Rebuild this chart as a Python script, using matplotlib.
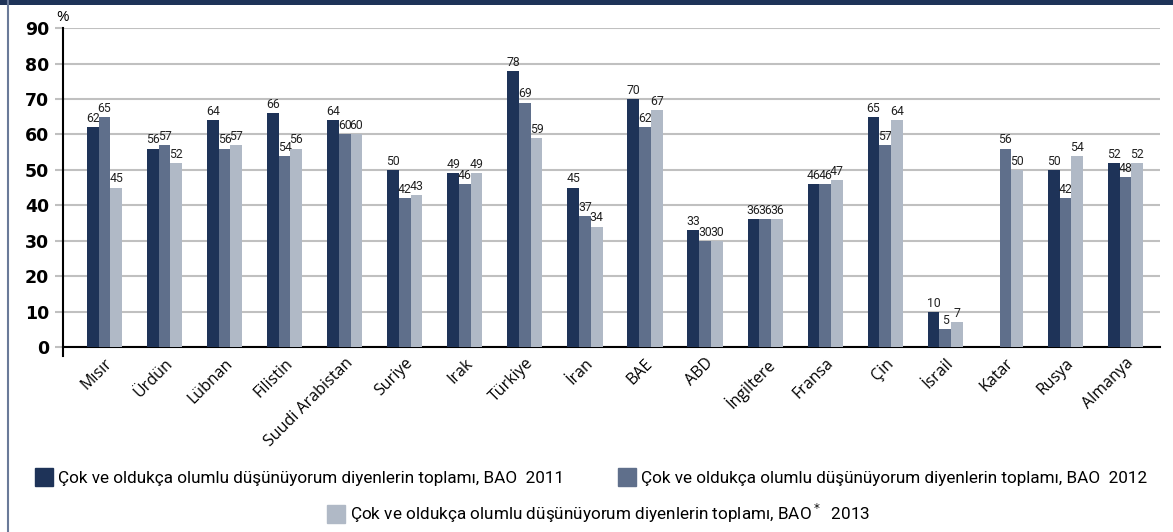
import numpy as np
import matplotlib.pyplot as plt
from matplotlib.lines import Line2D

# data
countries = ['Mısır', 'Ürdün', 'Lübnan', 'Filistin', 'Suudi Arabistan', 'Suriye',
             'Irak', 'Türkiye', 'İran', 'BAE', 'ABD', 'İngiltere', 'Fransa', 'Çin',
             'İsrail', 'Katar', 'Rusya', 'Almanya']
bao_2011 = [62, 56, 64, 66, 64, 50, 49, 78, 45, 70, 33, 36, 46, 65, 10, np.nan, 50, 52]
bao_2012 = [65, 57, 56, 54, 60, 42, 46, 69, 37, 62, 30, 36, 46, 57, 5, 56, 42, 48]
bao_2013 = [45, 52, 57, 56, 60, 43, 49, 59, 34, 67, 30, 36, 47, 64, 7, 50, 54, 52]
yticks = [0, 10, 20, 30, 40, 50, 60, 70, 80, 90]

labels = ['Çok ve oldukça olumlu düşünüyorum diyenlerin toplamı, BAO  2011',
          'Çok ve oldukça olumlu düşünüyorum diyenlerin toplamı, BAO  2012',
          'Çok ve oldukça olumlu düşünüyorum diyenlerin toplamı, BAO$^*$  2013']
colors = ['#1e3358', '#5f6f8b', '#b0b9c6']

plt.rcParams['font.family'] = ['Open Sans', 'DejaVu Sans']

fig = plt.figure(figsize=(11.73, 5.32), dpi=100)
ax = fig.add_axes([0.0537, 0.3477, 0.935, 0.5995])

x = np.arange(len(countries))
w = 0.195
for i, (vals, c) in enumerate(zip([bao_2011, bao_2012, bao_2013], colors)):
    ax.bar(x + (i - 1) * w, vals, width=w, color=c, zorder=3)
    for xi, v in zip(x + (i - 1) * w, vals):
        if np.isnan(v):
            continue
        ax.annotate(f'{v:g}', (xi, v), xytext=(0, 1.5), textcoords='offset points',
                    ha='center', va='bottom', fontsize=8.8, color='#222222',
                    family=['Roboto', 'DejaVu Sans'])

ax.set_xlim(-0.69, 17.57)
ax.set_ylim(0, 90)
ax.set_yticks(yticks)
ax.yaxis.grid(True, color='#c0c0c0', linewidth=1.5, zorder=0)
ax.tick_params(axis='y', length=6, width=1.5, color='#c0c0c0', pad=4)
ax.set_yticklabels([str(t) for t in yticks], fontsize=12.5, fontweight='bold',
                   family='DejaVu Sans')
ax.set_xticks(x)
ax.set_xticklabels(countries, rotation=45, ha='right', va='top',
                   rotation_mode='anchor', fontsize=11.5)
ax.tick_params(axis='x', length=0, pad=6)
for s in ['top', 'right']:
    ax.spines[s].set_visible(False)
ax.spines['left'].set_linewidth(1.5)
ax.spines['bottom'].set_linewidth(1.5)
ax.spines['left'].set_bounds(-2.5, 90)
ax.set_ylim(0, 90)
ax.text(0.0, 1.01, '%', transform=ax.transAxes, ha='center', va='bottom',
        fontsize=11)

# legend, one square per entry
legend_pos = [(0.0298, 0.1015), (0.527, 0.1015), (0.279, 0.0357)]
for c, lab, (lx, ly) in zip(colors, labels, legend_pos):
    h = Line2D([], [], marker='s', color='none', markerfacecolor=c,
               markeredgecolor=c, markersize=13)
    fig.legend(handles=[h], labels=[lab], loc='center left',
               bbox_to_anchor=(lx, ly), frameon=False, handlelength=1.05,
               handletextpad=0.3, borderpad=0, borderaxespad=0,
               prop={'family': ['Roboto', 'DejaVu Sans'], 'size': 12.3})

# frame: dark band on top and thin line on the left
fig.add_artist(plt.Rectangle((0, 1 - 5 / 532), 1, 5 / 532, transform=fig.transFigure,
                             color='#1e3358', lw=0))
fig.add_artist(Line2D([7.5 / 1173, 7.5 / 1173], [0, 1], transform=fig.transFigure,
                      color='#6a7a99', lw=1.5))

fig.savefig('out.png', dpi=100)
